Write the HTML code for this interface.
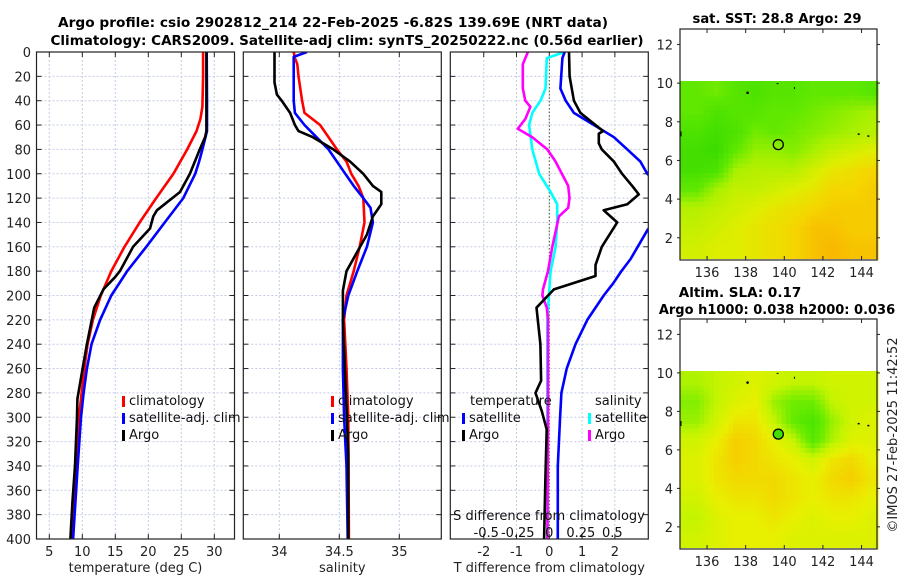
<!DOCTYPE html>
<html><head><meta charset="utf-8">
<style>
html,body{margin:0;padding:0;background:#fff;}
svg{display:block;font-family:"DejaVu Sans","Liberation Sans",sans-serif;}
</style></head>
<body>
<svg id="fig" width="900" height="580" viewBox="0 0 900 580" xmlns="http://www.w3.org/2000/svg">
<g font-weight="bold" font-size="13.5" text-anchor="middle" fill="#000">
<text x="333" y="27" textLength="550" lengthAdjust="spacingAndGlyphs">Argo profile: csio 2902812_214 22-Feb-2025 -6.82S 139.69E (NRT data)</text>
<text x="347" y="45" textLength="593" lengthAdjust="spacingAndGlyphs">Climatology: CARS2009. Satellite-adj clim: synTS_20250222.nc (0.56d earlier)</text>
</g>
<text x="777" y="23" font-weight="bold" font-size="13" text-anchor="middle" textLength="169" lengthAdjust="spacingAndGlyphs">sat. SST: 28.8 Argo: 29</text>
<text x="740" y="297" font-weight="bold" font-size="13.5" text-anchor="middle">Altim. SLA: 0.17</text>
<text x="777" y="314" font-weight="bold" font-size="13" text-anchor="middle">Argo h1000: 0.038 h2000: 0.036</text>
<text transform="translate(897,435) rotate(-90)" font-size="13" text-anchor="middle" fill="#222">©IMOS 27-Feb-2025 11:42:52</text>
</svg>
<script>
// ---------- data ----------
const depthTicks=[0,20,40,60,80,100,120,140,160,180,200,220,240,260,280,300,320,340,360,380,400];
const tempTicks=[5,10,15,20,25,30];
const salTicks=[34,34.5,35];
const salTickLabels=["34","34.5","35"];
const tdiffTicks=[-2,-1,0,1,2];
const sdiffTicks=[-0.5,-0.25,0,0.25,0.5];
const sdiffTickLabels=["-0.5","-0.25","0","0.25","0.5"];
// temperature profiles [depth, value]
const tempClimDepth=[0,20,45,55,65,80,100,120,140,160,180,200,220,240,260,280,300,340,380,400];
const tempClimVal=[28.3,28.3,28.2,27.9,27.3,25.9,23.8,21.2,18.7,16.4,14.4,12.8,11.6,10.8,10.3,9.9,9.5,9.1,8.6,8.4];
const tempSatDepth=[0,40,65,80,90,100,120,140,160,180,200,220,240,260,280,300,340,400];
const tempSatVal=[28.85,28.9,28.9,28.2,27.7,27.1,25.3,22.5,19.7,16.8,14.4,12.7,11.4,10.7,10.2,9.8,9.3,8.6];
const tempArgoDepth=[0,40,65,70,80,100,115,130,135,145,160,180,185,195,210,240,260,285,300,340,370,400];
const tempArgoVal=[28.8,28.8,28.8,28.6,27.8,26.3,24.8,21.3,20.75,20.25,17.7,15.7,14.95,13.2,11.8,10.7,10.05,9.25,9.2,8.9,8.5,8.2];
// salinity profiles
const salClimDepth=[0,5,10,20,40,50,60,80,90,100,110,120,140,160,180,200,220,260,300,400];
const salClimVal=[34.12,34.13,34.15,34.16,34.19,34.21,34.34,34.48,34.56,34.6,34.66,34.70,34.71,34.67,34.62,34.56,34.54,34.56,34.575,34.58];
const salSatDepth=[0,4,20,40,50,60,70,80,100,110,120,128,140,160,180,200,220,260,300,340,400];
const salSatVal=[34.23,34.12,34.12,34.12,34.13,34.21,34.31,34.41,34.55,34.62,34.70,34.76,34.78,34.73,34.65,34.575,34.53,34.53,34.54,34.56,34.57];
const salArgoDepth=[0,25,35,40,50,60,65,70,80,90,100,110,115,125,135,150,165,180,196,220,280,330,400];
const salArgoVal=[33.96,33.96,33.98,34.02,34.09,34.13,34.16,34.28,34.45,34.59,34.70,34.78,34.85,34.85,34.78,34.73,34.645,34.56,34.53,34.53,34.555,34.575,34.575];
// differences from climatology
const tdSatDepth=[0,5,30,40,50,60,70,80,90,100,110,135,146,170,180,190,200,220,240,260,280,300,340,400];
const tdSatVal=[0.47,0.40,0.34,0.5,0.75,1.36,1.97,2.38,2.78,2.99,3.4,3.4,3.0,2.48,2.2,1.95,1.66,1.16,0.80,0.53,0.37,0.33,0.26,0.26];
const tdArgoDepth=[0,20,40,50,60,65,67,75,80,90,100,110,117,125,130,140,160,175,184,195,210,240,270,280,295,310,350,400];
const tdArgoVal=[0.60,0.62,0.75,0.95,1.41,1.64,1.51,1.51,1.6,1.97,2.22,2.53,2.73,2.38,1.66,2.07,1.6,1.41,1.41,0.14,-0.39,-0.27,-0.25,-0.42,-0.23,-0.08,-0.12,-0.16];
const sdSatDepth=[0,5,30,40,50,60,80,100,115,125,140,160,180,195,220,260,300,400];
const sdSatVal=[0.12,-0.02,-0.03,-0.07,-0.135,-0.16,-0.135,-0.08,0.01,0.063,0.063,0.05,0.01,0,-0.016,-0.016,-0.016,-0.015];
const sdArgoDepth=[0,10,30,40,45,55,63,70,80,90,100,110,120,128,135,160,180,195,200,210,220,300,400];
const sdArgoVal=[-0.17,-0.21,-0.21,-0.19,-0.15,-0.19,-0.25,-0.135,-0.016,0.05,0.10,0.15,0.16,0.15,0.076,0.024,-0.01,-0.05,-0.055,-0.02,-0.01,-0.01,-0.015];
// maps: rows lat 9.5..1.5, cols lon 135.5..144.5 (0=green .. 1=orange)
const mapLats=[9.5,8.5,7.5,6.5,5.5,4.5,3.5,2.5,1.5];
const mapLons=[135.5,136.5,137.5,138.5,139.5,140.5,141.5,142.5,143.5,144.5];
const sstGrid=[
[.3,.35,.25,.2,.25,.25,.3,.3,.3,.25],
[.3,.2,.25,.25,.3,.3,.35,.4,.45,.5],
[.2,.15,.2,.35,.3,.35,.4,.45,.5,.55],
[.15,.1,.3,.45,.45,.4,.5,.6,.65,.7],
[.15,.2,.5,.55,.55,.55,.65,.75,.8,.85],
[.3,.5,.6,.6,.65,.7,.75,.85,.85,.9],
[.55,.6,.65,.7,.75,.8,.85,.9,.9,.9],
[.6,.65,.7,.75,.8,.85,.95,.95,.9,.9],
[.65,.7,.7,.75,.8,.85,.95,1,.95,.95]];
const slaGrid=[
[.45,.5,.55,.6,.55,.5,.5,.55,.55,.55],
[.35,.5,.6,.65,.4,.3,.3,.5,.55,.55],
[.4,.55,.7,.7,.5,.25,.15,.4,.55,.6],
[.55,.65,.8,.75,.65,.5,.2,.45,.6,.6],
[.6,.7,.8,.75,.7,.65,.55,.7,.75,.65],
[.6,.7,.75,.75,.75,.7,.65,.75,.8,.7],
[.55,.65,.7,.7,.75,.7,.65,.7,.7,.65],
[.5,.6,.65,.65,.7,.65,.6,.65,.65,.6],
[.55,.6,.65,.65,.65,.6,.6,.6,.6,.6]];
const floatLon=[139.69], floatLat=[6.82];
const mapXTicks=[136,138,140,142,144];
const mapYTicks=[2,4,6,8,10,12];

// ---------- helpers ----------
const NS="http://www.w3.org/2000/svg";
const svg=document.getElementById('fig');
function mk(tag,attrs,parent){const e=document.createElementNS(NS,tag);for(const k in attrs)e.setAttribute(k,attrs[k]);(parent||svg).appendChild(e);return e;}
function txt(x,y,s,attrs,parent){const t=mk('text',Object.assign({x:x,y:y,'font-size':13,fill:'#222'},attrs||{}),parent);t.textContent=s;return t;}
const TOP=52,BOT=539;
function yD(d){return TOP+(BOT-TOP)*d/400;}
function lin(v0,v1,p0,p1){return v=>p0+(v-v0)*(p1-p0)/(v1-v0);}
const panels=[
 {name:'temperature-panel',x0:36.5,x1:234.5,fx:lin(3.06,33.06,36.5,234.5)},
 {name:'salinity-panel',x0:243.3,x1:441.3,fx:lin(33.7,35.35,243.3,441.3)},
 {name:'difference-panel',x0:450.3,x1:648.3,fx:lin(-3.02,3.02,450.3,648.3)}];
const fxS=lin(-0.785,0.785,450.3,648.3);

function panelFrame(p,xt,xl,idx){
 const g=mk('g',{});
 
 
 const clip=mk('clipPath',{id:'clip'+idx},g);
 mk('rect',{x:p.x0,y:TOP,width:p.x1-p.x0,height:BOT-TOP},clip);
 const grid=mk('g',{stroke:'#c4cbe6','stroke-width':1,'stroke-dasharray':'2,2'},g);
 
 
 depthTicks.forEach(d=>{if(d>0&&d<400)mk('line',{x1:p.x0,x2:p.x1,y1:yD(d),y2:yD(d)},grid);});
 xt.forEach(v=>mk('line',{x1:p.fx(v),x2:p.fx(v),y1:TOP,y2:BOT},grid));
 const tk=mk('g',{stroke:'#222','stroke-width':1},g);
 
 
 depthTicks.forEach(d=>{mk('line',{x1:p.x0,x2:p.x0+5,y1:yD(d),y2:yD(d)},tk);mk('line',{x1:p.x1,x2:p.x1-5,y1:yD(d),y2:yD(d)},tk);});
 const xl0=mk('g',{'text-anchor':'middle'},g);
 
 
 xt.forEach((v,i)=>{mk('line',{x1:p.fx(v),x2:p.fx(v),y1:BOT,y2:BOT-5,stroke:'#222'},tk);mk('line',{x1:p.fx(v),x2:p.fx(v),y1:TOP,y2:TOP+5,stroke:'#222'},tk);txt(p.fx(v),556,xl[i],{},xl0);});
 return g;
}
function drawLine(g,fx,depths,vals,color,name,clipId){
 const pts=depths.map((d,i)=>fx(vals[i]).toFixed(1)+','+yD(d).toFixed(1)).join(' ');
 const pl=mk('polyline',{points:pts,fill:'none',stroke:color,'stroke-width':2.6,'stroke-linejoin':'round','clip-path':'url(#'+clipId+')'},g);
 
 
}
function frameRect(p,g){mk('rect',{x:p.x0,y:TOP,width:p.x1-p.x0,height:BOT-TOP,fill:'none',stroke:'#222','stroke-width':1.2},g);}
function legendEntry(g,x,y,color,label,name){
 const e=mk('g',{},g);
 
 
 mk('rect',{x:x,y:y-9,width:3,height:11,fill:color},e);
 txt(x+7,y,label,{fill:'#111'},e);
}

// Panel 1
let p=panels[0];
let g=panelFrame(p,tempTicks,tempTicks.map(String),0);
drawLine(g,p.fx,tempClimDepth,tempClimVal,'#f00','temp-climatology-line','clip0');
drawLine(g,p.fx,tempSatDepth,tempSatVal,'#00f','temp-satellite-line','clip0');
drawLine(g,p.fx,tempArgoDepth,tempArgoVal,'#000','temp-argo-line','clip0');
frameRect(p,g);
const yl=mk('g',{'text-anchor':'end'},g);


depthTicks.forEach(d=>txt(31,yD(d)+5,String(d),{},yl));
let xt=txt((p.x0+p.x1)/2,572,'temperature (deg C)',{'text-anchor':'middle'},g);


let lg=mk('g',{},g);


legendEntry(lg,122,405,'#f00','climatology','legend-climatology');
legendEntry(lg,122,422,'#00f','satellite-adj. clim','legend-satellite-adj');
legendEntry(lg,122,439,'#000','Argo','legend-argo');

// Panel 2
p=panels[1];
g=panelFrame(p,salTicks,salTickLabels,1);
drawLine(g,p.fx,salClimDepth,salClimVal,'#f00','sal-climatology-line','clip1');
drawLine(g,p.fx,salSatDepth,salSatVal,'#00f','sal-satellite-line','clip1');
drawLine(g,p.fx,salArgoDepth,salArgoVal,'#000','sal-argo-line','clip1');
frameRect(p,g);
xt=txt((p.x0+p.x1)/2,572,'salinity',{'text-anchor':'middle'},g);


lg=mk('g',{},g);


legendEntry(lg,331,405,'#f00','climatology','legend-climatology');
legendEntry(lg,331,422,'#00f','satellite-adj. clim','legend-satellite-adj');
legendEntry(lg,331,439,'#000','Argo','legend-argo');

// Panel 3
p=panels[2];
g=panelFrame(p,tdiffTicks,tdiffTicks.map(String),2);
mk('line',{x1:p.fx(0),x2:p.fx(0),y1:TOP,y2:BOT,stroke:'#4a5a2a','stroke-width':1,'stroke-dasharray':'1.5,2'},g);
drawLine(g,fxS,sdSatDepth,sdSatVal,'#00ffff','sdiff-satellite-line','clip2');
drawLine(g,fxS,sdArgoDepth,sdArgoVal,'#ff00ff','sdiff-argo-line','clip2');
drawLine(g,p.fx,tdSatDepth,tdSatVal,'#00f','tdiff-satellite-line','clip2');
drawLine(g,p.fx,tdArgoDepth,tdArgoVal,'#000','tdiff-argo-line','clip2');
frameRect(p,g);
xt=txt((p.x0+p.x1)/2,572,'T difference from climatology',{'text-anchor':'middle'},g);


const st=txt(549,520,'S difference from climatology',{'text-anchor':'middle',fill:'#111'},g);


const sl=mk('g',{'text-anchor':'middle'},g);


sdiffTicks.forEach((v,i)=>txt(fxS(v),537,sdiffTickLabels[i],{fill:'#111'},sl));
lg=mk('g',{},g);


txt(470,405,'temperature',{fill:'#111'},lg);
legendEntry(lg,462,422,'#00f','satellite','legend-t-satellite');
legendEntry(lg,462,439,'#000','Argo','legend-t-argo');
txt(595,405,'salinity',{fill:'#111'},lg);
legendEntry(lg,588,422,'#00ffff','satellite','legend-s-satellite');
legendEntry(lg,588,439,'#ff00ff','Argo','legend-s-argo');

// ---------- maps ----------
function interp(a,b,t){return a+(b-a)*t;}
function cmap(v,stops){
 v=Math.max(0,Math.min(1,v));
 for(let i=1;i<stops.length;i++){if(v<=stops[i][0]){const s0=stops[i-1],s1=stops[i];const t=(v-s0[0])/(s1[0]-s0[0]);
 return 'rgb('+[1,2,3].map(k=>Math.round(interp(s0[k],s1[k],t))).join(',')+')';}}
 const s=stops[stops.length-1];return 'rgb('+s[1]+','+s[2]+','+s[3]+')';
}
const sstStops=[[0,40,214,0],[0.3,96,232,0],[0.5,168,240,0],[0.7,222,238,0],[0.85,245,214,0],[1,248,184,0]];
const slaStops=[[0,40,224,0],[0.3,110,236,0],[0.5,196,244,0],[0.65,232,240,0],[0.8,246,206,0],[1,248,180,0]];
function sample(grid,lon,lat){
 let fc=(lon-135.5),fr=(9.5-lat);
 fc=Math.max(0,Math.min(9,fc));fr=Math.max(0,Math.min(8,fr));
 const c0=Math.min(8,Math.floor(fc)),r0=Math.min(7,Math.floor(fr));
 const tc=fc-c0,tr=fr-r0;
 const a=interp(grid[r0][c0],grid[r0][c0+1],tc),b=interp(grid[r0+1][c0],grid[r0+1][c0+1],tc);
 return interp(a,b,tr);
}
function drawMap(name,yTop,yBot,grid,stops,filled){
 const X0=680,X1=877;
 const fx=lin(134.6,144.8,X0,X1), fy=lin(12.8,0.85,yTop,yBot);
 const g=mk('g',{});
 
 
 const cells=mk('g',{'shape-rendering':'crispEdges'},g);
 
 
 const step=0.25;
 for(let lat=10.1;lat>0.9;lat-=step){
  for(let lon=134.6;lon<144.8;lon+=step){
   const v=sample(grid,lon+step/2,lat-step/2);
   const x=fx(lon),y=fy(lat);
   mk('rect',{x:x.toFixed(1),y:y.toFixed(1),width:(fx(lon+step)-x+0.6).toFixed(1),height:(fy(lat-step)-y+0.6).toFixed(1),fill:cmap(v,stops)},cells);
  }
 }
 mk('rect',{x:X0,y:fy(0.9),width:X1-X0,height:yBot-fy(0.9)+1,fill:'#fff'},g);
 mk('circle',{cx:fx(138.1),cy:fy(9.5),r:1.3,fill:'#000'},g);
 mk('rect',{x:fx(134.6),y:fy(7.5),width:1.5,height:5,fill:'#000'},g);
 mk('rect',{x:fx(143.8),y:fy(7.4),width:2,height:1.5,fill:'#000'},g);
 mk('rect',{x:fx(144.3),y:fy(7.3),width:2,height:1.5,fill:'#000'},g);
 mk('rect',{x:fx(139.6),y:fy(10.0),width:2,height:1,fill:'#000'},g);
 mk('rect',{x:fx(140.5),y:fy(9.8),width:1,height:2,fill:'#000'},g);
 mk('rect',{x:X0,y:yTop,width:X1-X0,height:yBot-yTop,fill:'none',stroke:'#222','stroke-width':1.2},g);
 const tl=mk('g',{},g);
 
 
 mapXTicks.forEach(v=>{mk('line',{x1:fx(v),x2:fx(v),y1:yBot,y2:yBot-4,stroke:'#222'},g);mk('line',{x1:fx(v),x2:fx(v),y1:yTop,y2:yTop+4,stroke:'#222'},g);txt(fx(v),yBot+17,String(v),{'text-anchor':'middle'},tl);});
 mapYTicks.forEach(v=>{mk('line',{x1:X1,x2:X1+3,y1:fy(v),y2:fy(v),stroke:'#222'},g);mk('line',{x1:X0,x2:X0-3,y1:fy(v),y2:fy(v),stroke:'#222'},g);txt(673,fy(v)+5,String(v),{'text-anchor':'end'},tl);});
 const m=mk('circle',{cx:fx(floatLon[0]),cy:fy(floatLat[0]),r:5,fill:filled?'#40e000':'none',stroke:'#000','stroke-width':1.3},g);
 
 
}
drawMap('sst-map',29,260,sstGrid,sstStops,false);
drawMap('sla-map',319,549,slaGrid,slaStops,true);
</script>
</body></html>
